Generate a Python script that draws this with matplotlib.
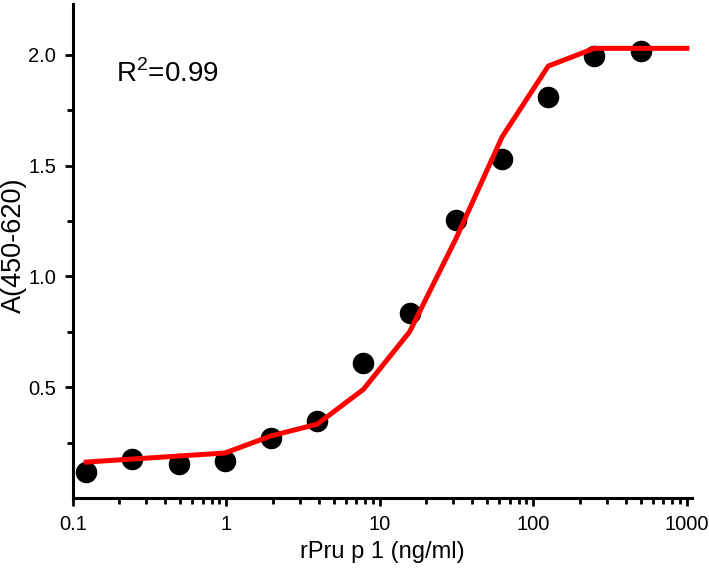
import numpy as np
import matplotlib
matplotlib.use("Agg")
import matplotlib.pyplot as plt
from matplotlib.ticker import LogLocator, FixedLocator, NullFormatter

plt.rcParams['font.family'] = ['Liberation Sans', 'DejaVu Sans']
plt.rcParams['mathtext.fontset'] = 'custom'
plt.rcParams['mathtext.rm'] = 'Liberation Sans'

# measured points (two-fold dilution series)
conc = [0.122, 0.244, 0.488, 0.977, 1.95, 3.9, 7.8, 15.6, 31.25, 62.5, 125, 250, 500]
absorb = [0.117, 0.176, 0.153, 0.167, 0.27, 0.347, 0.608, 0.833, 1.257, 1.53, 1.81, 1.995, 2.018]

# fitted curve
fit_conc = [0.122, 0.977, 1.95, 3.9, 7.8, 15.6, 31.25, 62.5, 125, 250, 500, 1000]
fit_abs = [0.162, 0.203, 0.28, 0.333, 0.49, 0.75, 1.17, 1.63, 1.95, 2.03, 2.03, 2.03]

xticks = [0.1, 1, 10, 100, 1000]
xticklabels = ['0.1', '1', '10', '100', '1000']
yticks = [0.5, 1.0, 1.5, 2.0]
yticklabels = ['0.5', '1.0', '1.5', '2.0']

fig = plt.figure(figsize=(7.09, 5.75), dpi=100)
ax = fig.add_axes([0.103, 0.134, 0.873, 0.859])

ax.plot(conc, absorb, 'o', color='black', ms=14.5, zorder=2)
ax.plot(fit_conc, fit_abs, '-', color='#ff0000', lw=3.6, zorder=3)

ax.set_xscale('log')
ax.set_xlim(0.1, 1080)
ax.set_ylim(0.0, 2.23)

ax.set_xticks(xticks)
ax.set_xticklabels(xticklabels)
ax.xaxis.set_minor_locator(LogLocator(base=10, subs=np.arange(2, 10)))
ax.xaxis.set_minor_formatter(NullFormatter())
ax.set_yticks(yticks)
ax.set_yticklabels(yticklabels)
ax.yaxis.set_minor_locator(FixedLocator([0.25, 0.75, 1.25, 1.75]))

for side in ['top', 'right']:
    ax.spines[side].set_visible(False)
for side in ['left', 'bottom']:
    ax.spines[side].set_linewidth(2.2)

ax.tick_params(which='major', length=6, width=2, labelsize=14.5, pad=6, direction='out')
ax.tick_params(which='minor', length=4, width=2, direction='out')

ax.set_xlabel('rPru p 1 (ng/ml)', fontsize=17, labelpad=5)
ax.set_ylabel('A(450-620)', fontsize=19.5)
ax.yaxis.set_label_coords(-0.074, 0.512)

ax.text(0.19, 1.88, r'R$^{2}$=0.99', fontsize=20, ha='left', va='baseline')

fig.savefig('out.png', dpi=100)
